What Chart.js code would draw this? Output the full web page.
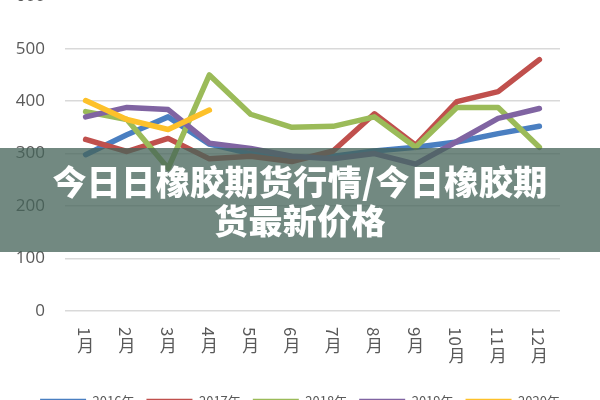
<!DOCTYPE html>
<html>
<head>
<meta charset="utf-8">
<script src="https://cdn.jsdelivr.net/npm/chart.js@4.4.0/dist/chart.umd.min.js"></script>
<style>
  html, body { margin: 0; padding: 0; background: #fff; overflow: hidden; width: 600px; height: 400px; }
  #wrap { position: relative; width: 600px; height: 400px; overflow: hidden; }
  #chart { position: absolute; left: 0; top: -34px; }
  #banner {
    position: absolute; left: 0; top: 148px; width: 600px; height: 104px;
    background: rgba(70, 100, 90, 0.76);
    display: flex; align-items: center; justify-content: center; text-align: center;
    color: #fff; font-family: "Noto Sans CJK SC", sans-serif; font-weight: 900;
    font-size: 34px; line-height: 39px; letter-spacing: 0.4px;
  }
</style>
</head>
<body>
<div id="wrap">
  <canvas id="chart" width="600" height="460"></canvas>
  <div id="banner">今日日橡胶期货行情/今日橡胶期<br>货最新价格</div>
</div>
<script>
const months = ['1月', '2月', '3月', '4月', '5月', '6月', '7月', '8月', '9月', '10月', '11月', '12月'];
const seriesNames = ['2016年', '2017年', '2018年', '2019年', '2020年'];
const yTicks = [0, 100, 200, 300, 400, 500, 600];

const s2016 = [298, 336, 370, 318, 300, 292, 295, 305, 312, 322, 338, 352];
const s2017 = [327, 304, 329, 290, 295, 285, 305, 376, 316, 399, 418, 479];
const s2018 = [380, 365, 272, 450, 375, 350, 352, 370, 312, 388, 388, 312];
const s2019 = [370, 388, 384, 320, 310, 295, 290, 300, 280, 323, 367, 386];
const s2020 = [401, 365, 346, 383, null, null, null, null, null, null, null, null];

const COLORS = ['#4a7fc1', '#c0504d', '#9bbb59', '#8064a2', '#fdc12a'];
const allSeries = [s2016, s2017, s2018, s2019, s2020];

// 月份标签：数字竖排旋转，"月"字正立
const monthLabels = {
  id: 'monthLabels',
  afterDraw(chart) {
    const ctx = chart.ctx;
    const xs = chart.scales.x;
    const top = chart.chartArea.bottom + 16;
    ctx.save();
    ctx.fillStyle = '#595959';
    ctx.font = '17px "Noto Sans CJK SC", sans-serif';
    months.forEach((m, i) => {
      const x = xs.getPixelForTick(i);
      const num = m.replace('月', '');
      const w = ctx.measureText(num).width;
      ctx.save();
      ctx.translate(x, top);
      ctx.rotate(Math.PI / 2);
      ctx.textAlign = 'left';
      ctx.textBaseline = 'middle';
      ctx.fillText(num, 0, 1);
      ctx.restore();
      ctx.textAlign = 'center';
      ctx.textBaseline = 'top';
      ctx.fillText('月', x, top + w + 1);
    });
    ctx.restore();
  }
};

new Chart(document.getElementById('chart'), {
  type: 'line',
  data: {
    labels: months,
    datasets: allSeries.map((data, i) => ({
      label: seriesNames[i],
      data,
      borderColor: COLORS[i],
      backgroundColor: COLORS[i],
      borderWidth: 5.5,
      borderCapStyle: 'round',
      borderJoinStyle: 'round',
      pointRadius: 0,
      tension: 0,
      order: allSeries.length - i
    }))
  },
  options: {
    responsive: false,
    animation: false,
    layout: { padding: { left: 0, right: 0, top: 7, bottom: 8 } },
    plugins: {
      tooltip: { enabled: false },
      legend: {
        position: 'bottom',
        labels: {
          color: '#595959',
          font: { size: 13, family: '"Noto Sans CJK SC", sans-serif' },
          usePointStyle: true,
          pointStyle: 'line',
          pointStyleWidth: 46,
          padding: 12,
          sort: (a, b) => a.datasetIndex - b.datasetIndex
        }
      }
    },
    scales: {
      x: {
        offset: true,
        grid: { display: false },
        border: { display: false },
        ticks: { display: false },
        afterFit(scale) { scale.height = 72; }
      },
      y: {
        min: 0,
        max: 600,
        afterBuildTicks(scale) { scale.ticks = yTicks.map(v => ({ value: v })); },
        afterFit(scale) { scale.width = 65; },
        grid: { color: '#d9d9d9', lineWidth: 1.5, drawTicks: false },
        border: { display: false },
        ticks: {
          color: '#595959',
          padding: 20,
          font: { size: 17, family: '"Open Sans", sans-serif' }
        }
      },
      // 右侧空白轴，只用来留出右边距
      yRight: {
        type: 'linear',
        position: 'right',
        grid: { display: false },
        border: { display: false },
        ticks: { display: false },
        afterFit(scale) { scale.width = 40; }
      }
    }
  },
  plugins: [monthLabels]
});
</script>
</body>
</html>
